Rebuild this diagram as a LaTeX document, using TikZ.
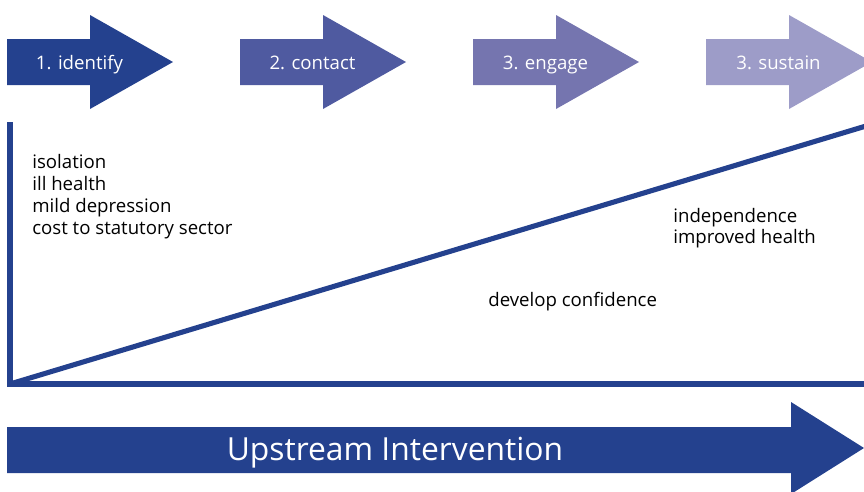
\documentclass[tikz,border=0pt]{standalone}
\usepackage{fontspec}
\setmainfont{Open Sans}
\usepackage{tikz}
\usetikzlibrary{arrows}

\definecolor{stepa}{HTML}{24418E}
\definecolor{stepb}{HTML}{4F5AA0}
\definecolor{stepc}{HTML}{7575AF}
\definecolor{stepd}{HTML}{9D9CC8}

\tikzset{
  steplabel/.style={anchor=base,text=white,font=\fontsize{10.6}{12}\selectfont,inner sep=0},
  note/.style={anchor=base west,font=\fontsize{10.6}{12}\selectfont,inner sep=0},
  axis/.style={line width=3.2pt,color=stepa}
}

\begin{document}
\begin{tikzpicture}[x=0.02cm,y=-0.02cm]
\useasboundingbox (0,0) rectangle (864,491);

% the four steps
\foreach \i/\c/\t in {0/stepa/1. identify,1/stepb/2. contact,2/stepc/3. engage,3/stepd/3. sustain}
{
\fill[\c] ({7+233*\i},39) -- ++(83,0) -- ++(0,-24) -- ++(83,47) -- ++(-83,47) -- ++(0,-24) -- ++(-83,0) -- cycle;
\node[steplabel] (s\i) at ({79.5+233*\i},69) {\t};
}

\coordinate (o) at (10,384);
\coordinate (top) at (10,122);
\coordinate (right) at (866,384);
\coordinate (end) at (866,126);

\draw[axis] (top)--(o)--(right);
\draw[axis,line width=2.9pt] (o)--(end);

\foreach \t [count=\k] in {isolation,ill health,mild depression,cost to statutory sector}
{
\node[note] (p\k) at (32,{146+22*\k}) {\t};
}
\node[note] (q1) at (673,222) {independence};
\node[note] (q2) at (673,243) {improved health};
\node[note] (r) at (488,306) {develop confidence};

% upstream arrow
\fill[stepa] (7,427) -- (791,427) -- (791,402) -- (864,448) -- (791,494) -- (791,473) -- (7,473) -- cycle;
\node[text=white,font=\fontsize{18.1}{21}\selectfont,anchor=base,inner sep=0] (up) at (395,460) {Upstream Intervention};
\end{tikzpicture}
\end{document}
